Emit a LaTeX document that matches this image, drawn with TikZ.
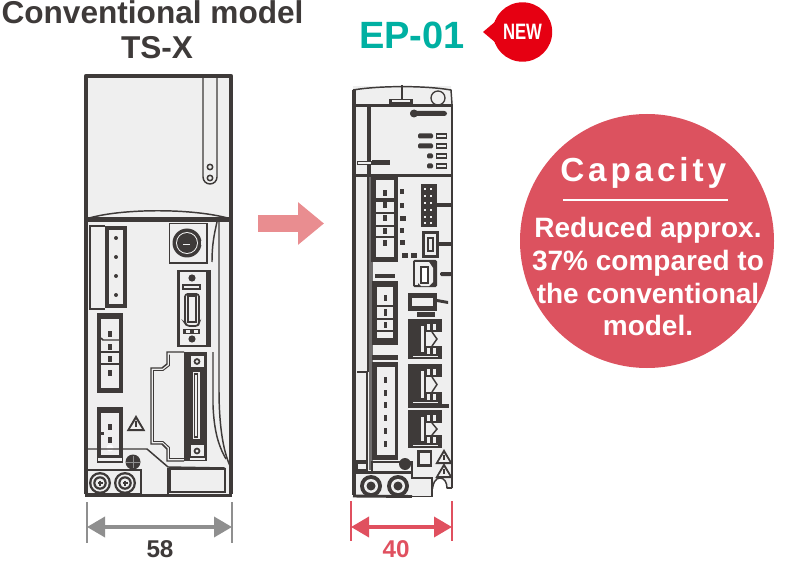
\documentclass[tikz,border=0pt]{standalone}
\usepackage{fontspec}
\setmainfont{Liberation Sans}
\newfontfamily\spacedbold[LetterSpace=11.5]{Liberation Sans Bold}
\usetikzlibrary{arrows.meta}
\definecolor{ink}{HTML}{3E3A39}
\definecolor{panel}{HTML}{EFEFEF}
\definecolor{midgray}{HTML}{8F8F8F}
\definecolor{teal1}{HTML}{00B0A2}
\definecolor{newred}{HTML}{E60012}
\definecolor{capred}{HTML}{DC525F}
\definecolor{dimred}{HTML}{E0505F}
\definecolor{arrowpink}{HTML}{E98D90}
\tikzset{
  thick1/.style={draw=ink,line width=3.2pt},
  bar/.style={draw=ink,line width=2.2pt},
  ln/.style={draw=ink,line width=1.1pt},
  thin1/.style={draw=ink,line width=.7pt},
  label1/.style={font=\bfseries,inner sep=0pt,text=ink},
  titletxt/.style={label1,font=\fontsize{23.7pt}{26pt}\selectfont\bfseries},
  dimtxt/.style={label1,font=\fontsize{18.2pt}{20pt}\selectfont\bfseries},
  captxt/.style={font=\fontsize{21pt}{24pt}\selectfont\bfseries,text=white,inner sep=0pt,anchor=base},
}
% pins on a column
\newcommand{\pinsat}[3]{\foreach \yy in {#3} \fill[ink] (#1-#2,\yy-3.2) rectangle (#1+#2,\yy+3.2);}
\newcommand{\screwat}[3]{% x y radius
  \fill[ink] (#1,#2) circle (#3);
  \fill[panel] (#1,#2) circle (#3-2.4);
  \fill[ink] (#1,#2) circle (#3-4.2);
  \fill[panel] (#1,#2) circle (#3-6.4);
  \draw[ink,line width=.9pt] (#1-2.5,#2)--(#1+2.5,#2) (#1,#2-2.5)--(#1,#2+2.5);}
\newcommand{\warntri}[3]{% cx top size
  \fill[ink] (#1,#2) -- (#1+#3*.58,#2+#3) -- (#1-#3*.58,#2+#3) -- cycle;
  \fill[panel] (#1,#2+#3*.28) -- (#1+#3*.36,#2+#3*.86) -- (#1-#3*.36,#2+#3*.86) -- cycle;
  \fill[ink] (#1-.9,#2+#3*.38) rectangle (#1+.9,#2+#3*.72);}
\newcommand{\rjport}[2]{% top y, height
  \fill[ink] (408,#1) rectangle (442,#1+#2);
  \fill[panel] (426,#1+13) rectangle (443,#1+#2-13);
  \fill[panel] (421,#1+7) rectangle (424,#1+#2-7);
  \fill[panel] (427,#1+5) rectangle (430,#1+11);
  \fill[panel] (433,#1+5) rectangle (436,#1+11);
  \fill[panel] (427,#1+#2-11) rectangle (430,#1+#2-5);
  \fill[panel] (433,#1+#2-11) rectangle (436,#1+#2-5);
  \fill[panel] (413,#1+#2-3.2) rectangle (438,#1+#2-2.2);
  \draw[ln] (432,#1+13) -- (437,#1+#2/2) -- (432,#1+#2-13);
}
\begin{document}
\begin{tikzpicture}[x=.75pt,y=-.75pt]
\useasboundingbox (0,0) rectangle (800,563);

% ---------- titles
\node[titletxt] (titleA) at (152.5,12.5) {Conventional model};
\node[titletxt] (titleB) at (157,48) {TS-X};
\node[inner sep=0pt,text=teal1,font=\fontsize{28.5pt}{32pt}\selectfont\bfseries] (titleC) at (412,35) {EP-01};

% NEW badge
\fill[newred] (483,32) -- (496,21) -- (496,43) -- cycle;
\fill[newred] (522.5,32) circle (29.7);
\node[inner sep=0pt,text=white] (newlbl) at (522.5,32) {\scalebox{.75}[1]{\fontsize{16.7pt}{18pt}\selectfont\bfseries NEW}};

% ---------- left device
\fill[panel] (85,75) rectangle (232,496);
\draw[ln] (203,76) -- (203,177) arc (180:0:7) -- (217,76);
\draw[ln] (210,167) circle (2.7);
\draw[ln] (210,178) circle (2.7);
\draw[ln,fill=panel] (86,219) .. controls (120,208) and (195,208) .. (231,219);
\fill[ink] (86,217) rectangle (231,222.5);
\draw[ln] (105,226) -- (90,226) -- (90,309) -- (105,309);
\draw[ln] (219,222) -- (219,390) .. controls (219,420) and (222,450) .. (231,468);
\draw[ln] (217,222) .. controls (214,235) and (212,245) .. (212,262);
\draw[ln] (213,352) -- (213,405) .. controls (214,430) and (218,445) .. (226,459);
\draw[ln] (230,222) -- (230,470);

% connector 1
\fill[ink] (105,226) rectangle (127,308);
\fill[panel] (109,230) rectangle (123,304);
\foreach \yy in {238,257,276,295} \fill[ink] (116,\yy) circle (2);

% round connector
\draw[ln] (169.5,223.5) rectangle (207,263);
\fill[panel] (171.5,225) rectangle (205,261);
\fill[ink] (187,243) circle (14.5);
\fill[panel] (187,243) circle (11);
\fill[ink] (187,243) circle (10);
\fill[panel] (183,244) rectangle (190,245.5);
\fill[panel] (201,241) rectangle (205,245);

% D-sub
\fill[ink] (177,270) rectangle (211,347);
\fill[panel] (180,272) rectangle (206,345);
\fill[ink] (207,272) rectangle (209,345);
\fill[ink] (192,278) circle (3.6);
\draw[ln] (183,285) rectangle (200,289);
\draw[line width=1.3pt,ink,rounded corners=2pt] (185,294) -- (185,323) -- (187,326) -- (198,326) -- (199,323) -- (199,294) -- cycle;
\draw[ln] (188,296) rectangle (196,322);
\fill[ink] (183,329) rectangle (200,334);
\fill[panel] (186,330) rectangle (190,333);
\fill[panel] (194,330) rectangle (198,333);
\fill[ink] (192,339) circle (3.6);

% connector 2
\fill[ink] (97,313) rectangle (123,393);
\fill[panel] (101,317) rectangle (119,388);
\draw[ln] (101,318) -- (119,318);
\draw[ln] (101,338) -- (103,340) -- (119,340);
\draw[ln] (101,352) -- (119,352);
\draw[ln] (101,364) -- (119,364);
\pinsat{110}{1.7}{334,347,359,373}
\fill[panel] (116,333) rectangle (118,338);
\fill[panel] (116,346) rectangle (118,351);
\fill[panel] (116,358) rectangle (118,363);

% connector 3
\fill[ink] (97,407) rectangle (123,463);
\fill[panel] (101,413) rectangle (119,455);
\fill[ink] (101,432) rectangle (104,435);
\pinsat{110}{1.7}{427,440}
\fill[white] (110,448) circle (3.5);
\fill[panel] (98,458) rectangle (122,461);

\warntri{136}{415}{16}
\fill[ink] (133,462) circle (7.5);
\fill[midgray] (133,456) rectangle (134,468);
\fill[midgray] (126,462) rectangle (140,463);

% large connector
\draw[line width=1.1pt,ink,fill=panel] (184,352) -- (167,352) -- (167,364) -- (162,368) -- (151,368) -- (151,444) -- (162,444) -- (167,449) -- (167,461) -- (184,461);
\draw[thin1] (169.5,354.5) -- (169.5,365.5) -- (163,370.5) -- (153.5,370.5) -- (153.5,441.5) -- (163,441.5) -- (169.5,447.5) -- (169.5,458.5) -- (184,458.5);
\fill[ink] (184,352) rectangle (207,461);
\fill[panel] (191,356) rectangle (204,367);
\fill[panel] (191,445) rectangle (204,456);
\fill[ink] (197,361.5) circle (3.4);
\fill[panel] (197,361.5) circle (1.7);
\fill[ink] (197,451) circle (3.4);
\fill[panel] (197,451) circle (1.7);
\fill[panel] (192.5,372) rectangle (199.5,439);
\draw[ink,line width=1pt] (194.5,374) rectangle (197.5,437);
\fill[panel] (190,458) rectangle (205,460);

% lower lines
\draw[ln] (87,449) -- (147,449) -- (168,467) -- (225,468);
\draw[ln,fill=panel] (170,469) rectangle (225,492);
\draw[ln] (168,468) -- (168,494);
\draw[ln,fill=panel] (87,470) rectangle (141,494);
\screwat{100}{483}{11}
\screwat{125}{483}{11}

% left device outline
\draw[thick1,line join=round] (86,494) -- (86,76) -- (231,76) -- (231,494);
\draw[bar,line join=round] (85,495.5) -- (232,495.5);

% dim left
\draw[midgray,line width=1pt] (87,502) -- (87,543);
\draw[midgray,line width=1pt] (232,502) -- (232,543);
\coordinate (dimAl) at (87,527);
\coordinate (dimAr) at (232,527);
\draw[midgray,line width=2.7pt,{Triangle[length=13.5pt,width=15pt]}-{Triangle[length=13.5pt,width=15pt]}] (dimAl) -- (dimAr);
\node[dimtxt] (dimAt) at (160,549.5) {58};

% big arrow
\coordinate (goA) at (258,223.5);
\coordinate (goB) at (324,223.5);
\draw[arrowpink,line width=12.75pt,-{Triangle[length=19.5pt,width=30.75pt]}] (goA) -- (goB);

% ---------- right device
\fill[panel] (353,86) rectangle (451,496);
\draw[ln] (353,90) .. controls (380,85.5) and (425,85.5) .. (451,90) -- (452,104);
\draw[line width=1.1pt,ink] (402,85) -- (402,100);
\fill[ink] (389,99) rectangle (413,105);
\fill[panel] (392,100) rectangle (410,102);
\draw[ink,line width=1pt] (438,98) circle (7);
\fill[ink] (352,104) rectangle (452,107.5);
\fill[ink] (367,107) rectangle (371,175);
\draw[ln] (452,104) -- (452,488);
\fill[ink] (352,174) rectangle (452,177);

% logo and leds
\fill[ink,rounded corners=2pt] (410,111) rectangle (447,116);
\fill[ink] (414,113.5) circle (4);
\foreach \yy/\xa in {136/418,146/418,156/427,166/427}{
  \fill[ink,rounded corners=1pt] (\xa,\yy-2.5) rectangle (433,\yy+2.5);
  \fill[ink] (436,\yy-2.6) rectangle (447,\yy+2.6);
  \fill[panel] (437,\yy-1) rectangle (446,\yy+1);
}
\fill[ink] (372,160.5) rectangle (390,165.5);
\fill[ink] (357,161) rectangle (372,165);
\fill[panel] (358,162.3) rectangle (371,163.7);

% left column
\draw[ln] (368,177) -- (368,372);
\fill[midgray!60!ink] (369,177) rectangle (373,470);
\fill[panel] (357,373) rectangle (367,460);
\draw[ln] (357,372) -- (367,372);
\draw[ln] (367,372) -- (367,460);
\fill[ink] (356,459.5) rectangle (368,462);
\draw[ln] (357,463) rectangle (367,470);

% connector A
\fill[ink] (371,177) rectangle (398,262);
\fill[panel] (376,180) rectangle (394,198);
\fill[panel] (376,202) rectangle (394,212);
\fill[panel] (376,214) rectangle (394,225);
\fill[panel] (376,227) rectangle (394,236);
\fill[panel] (376,238) rectangle (394,257);
\pinsat{385}{1.7}{193,205,218,231,243}
\foreach \yy/\xb in {192/404,206/404,219/406,231/404,243/405} \fill[ink] (400,\yy-2.5) rectangle (\xb,\yy+2.5);
\fill[ink] (402,253) rectangle (408,258);
\fill[ink] (411,253) rectangle (417,258);

% terminal block
\fill[ink] (421,184) rectangle (437,227);
\foreach \yy in {189,196,203,210,217,223}{
  \fill[panel] (424,\yy-1.2) rectangle (426,\yy+1.2);
  \fill[panel] (430,\yy-1.2) rectangle (432,\yy+1.2);
}
\fill[ink] (437,203.5) rectangle (452,207.5);

% small connector
\fill[ink] (422,231) rectangle (439,258);
\fill[panel] (425,234) rectangle (436,255);
\fill[ink] (427,237) rectangle (434,252);
\fill[panel] (429,239) rectangle (432,250);
\fill[ink] (439,242) rectangle (452,246);

% USB
\fill[ink,rounded corners=1pt] (413,260) rectangle (437,287);
\fill[panel] (414.5,262) rectangle (418,285);
\fill[panel] (418,283) -- (421,286) -- (429,286) -- (433,282) -- (433,268) -- (429,262) -- (418,262) -- cycle;
\draw[ink,line width=1.1pt,fill=white] (421,267) rectangle (428,283);
\fill[ink,rounded corners=1pt] (440,272) rectangle (452,276);

% box
\fill[ink] (408,293) rectangle (437,311);
\fill[panel] (412,298) rectangle (433,306);
\fill[ink] (437,299) -- (448,301) -- (448,304) -- (437,302) -- cycle;

% connector B
\fill[ink] (375,274) rectangle (395,278);
\fill[ink] (372,281) rectangle (398,345);
\fill[panel] (377,287) rectangle (393,338);
\fill[ink] (377,305) rectangle (393,307);
\fill[ink] (377,318) rectangle (393,320);
\fill[ink] (377,330) rectangle (393,332);
\pinsat{385}{1.5}{298,312.5,325}

% connector C
\fill[ink] (372,355) rectangle (398,360);
\fill[ink] (372,362) rectangle (398,460);
\fill[panel] (377,367) rectangle (395,455);
\pinsat{385}{1.5}{380,393,405,418,431,444}
\draw[ln] (372,462) rectangle (412,472);

% RJ45
\fill[ink] (417,312) rectangle (435,317);
\rjport{319}{40}
\rjport{364}{41}
\fill[ink] (408,404) rectangle (449,408);
\rjport{410}{38}
\fill[ink] (417,450) rectangle (432,467);
\fill[panel] (420,453) rectangle (430,464);
\warntri{444}{449}{15}
\warntri{444}{463}{15}
\fill[ink] (405,464) circle (6);

% bottom
\fill[ink] (352,470.5) rectangle (412,473.5);
\fill[panel] (354,474) rectangle (412,495);
\draw[ln] (412,473) -- (412,478) -- (432,478) -- (432,496);
\draw[ln,fill=white] (432,496) .. controls (432,482) and (436,478) .. (440,478) .. controls (444,478) and (447,482) .. (447,488) -- (452,488);
\fill[white] (433,489) rectangle (452,498);
\draw[ln] (432,497) -- (432,480);
\draw[ln] (447,488) -- (452,488);
\fill[ink] (371,486) circle (11);
\fill[panel] (371,486) circle (7);
\fill[ink] (371,486) circle (4.5);
\fill[ink] (398,486) circle (11);
\fill[panel] (398,486) circle (7);
\fill[ink] (398,486) circle (4.5);

% right device outline
\draw[line width=3pt,ink] (354,90) -- (354,495);
\draw[bar] (353,496) -- (412,496.5);
\draw[ln] (412,496.5) -- (432,496.5);

% dim right
\draw[dimred,line width=1pt] (351,501) -- (351,541);
\draw[dimred,line width=1pt] (452,501) -- (452,541);
\coordinate (dimBl) at (351,527);
\coordinate (dimBr) at (452,527);
\draw[dimred,line width=2.7pt,{Triangle[length=13.5pt,width=15pt]}-{Triangle[length=13.5pt,width=15pt]}] (dimBl) -- (dimBr);
\node[dimtxt,text=dimred] (dimBt) at (396,549.5) {40};

% ---------- capacity bubble
\fill[capred] (647,241) circle (127);
\node[inner sep=0pt,text=white,anchor=base west,font=\fontsize{25pt}{28pt}\selectfont\spacedbold] (capT) at (560,182) {Capacity};
\draw[white,line width=1.3pt] (563,200) -- (728,200);
\node[captxt] (cap1) at (648,238) {Reduced approx.};
\node[captxt] (cap2) at (648,270.5) {37\% compared to};
\node[captxt] (cap3) at (648,303) {the conventional};
\node[captxt] (cap4) at (648,335) {model.};
\end{tikzpicture}
\end{document}
